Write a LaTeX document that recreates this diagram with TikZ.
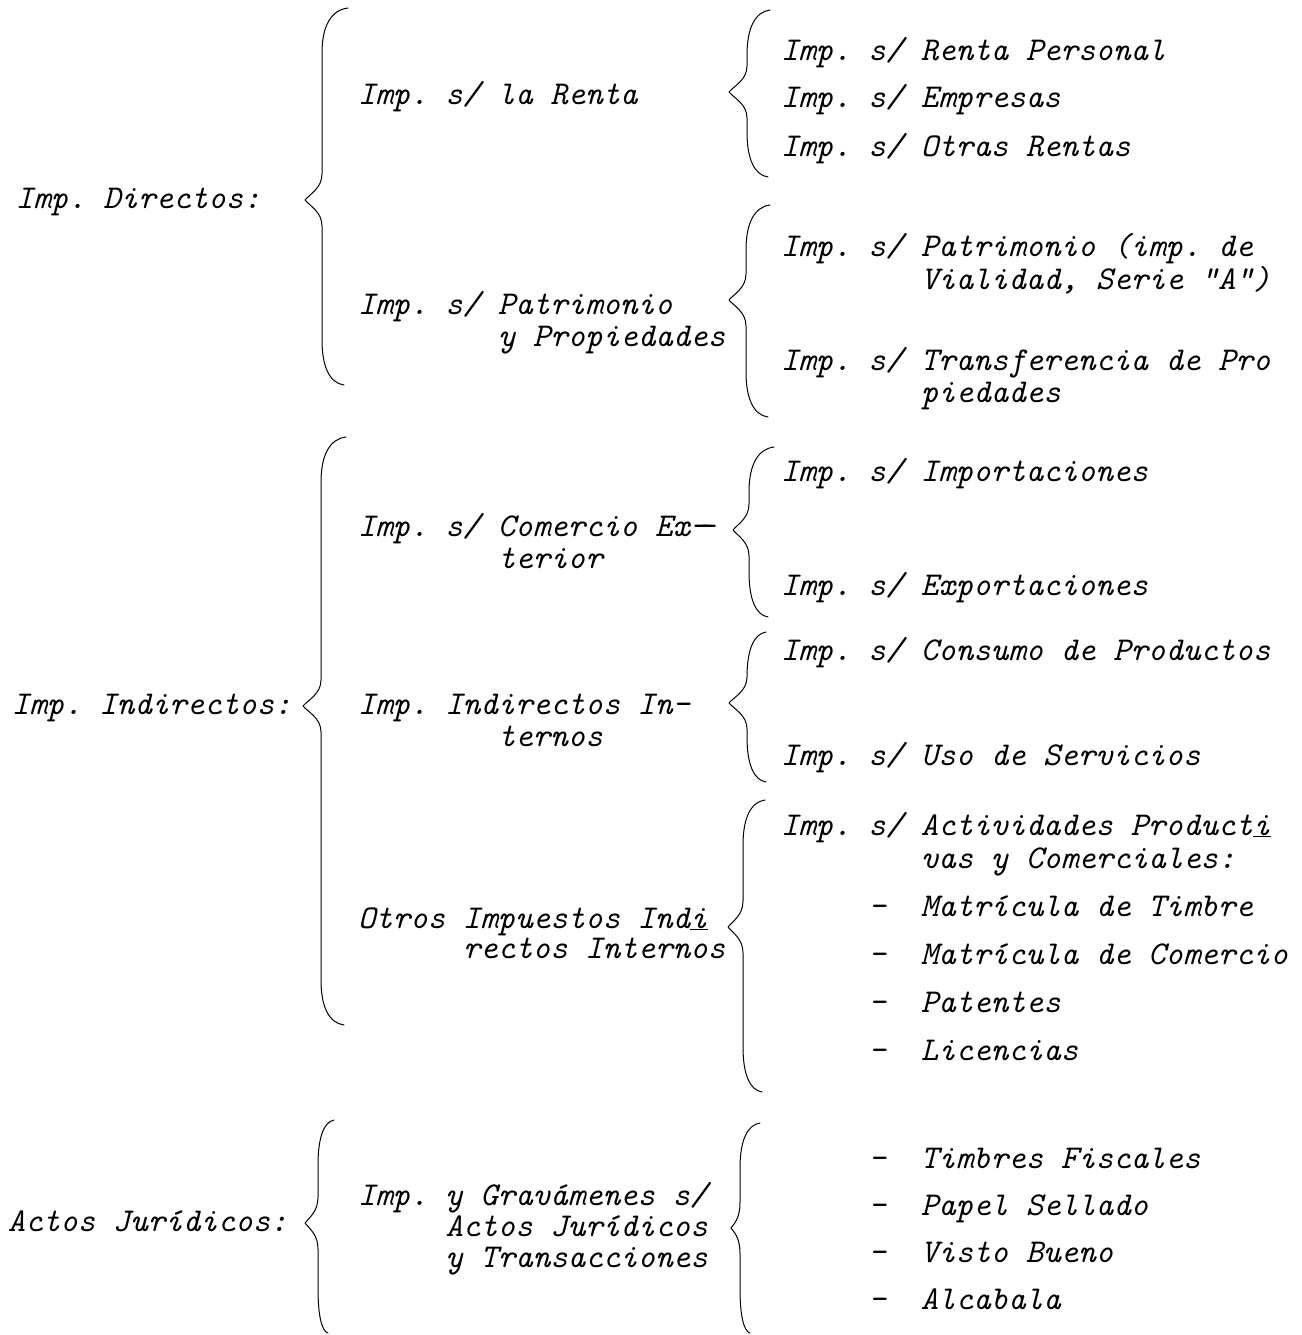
\documentclass[tikz,border=0pt]{standalone}
\newcommand\mybrace[7]{%
  \draw[bracestyle] (#1,#2) .. controls ({#3+0.35*(#1-#3)},{#2+2}) and (#3,{#2+18}) .. (#3,{#2+45})
    -- (#3,{#5-26}) .. controls (#3,{#5-12}) and ({#4+5},{#5-6}) .. (#4,#5)
    .. controls ({#4+5},{#5+6}) and (#3,{#5+12}) .. (#3,{#5+26})
    -- (#3,{#7-45}) .. controls (#3,{#7-18}) and ({#3+0.35*(#6-#3)},{#7-2}) .. (#6,#7);}
\begin{document}
\frenchspacing
\begin{tikzpicture}[x=1pt,y=-1pt,
  lbl/.style={anchor=base west, inner sep=0pt, outer sep=0pt,
    font=\fontsize{33.3}{33.3}\selectfont\ttfamily\itshape\frenchspacing},
  bracestyle/.style={line width=1pt, line cap=round, line join=round}]
\useasboundingbox (0,0) rectangle (1301,1335);
% level 1
\node[lbl] (dir) at (16,208) {Imp. Directos:};
\node[lbl] (ind) at (12,714) {Imp. Indirectos:};
\node[lbl] (act) at (8,1231) {Actos Jurídicos:};
% level 2
\node[lbl] (renta) at (358,105) {Imp. s/ la Renta};
\node[lbl] (patA) at (358,314) {Imp. s/ Patrimonio};
\node[lbl] (patB) at (498,346) {y Propiedades};
\node[lbl] (comA) at (358,536) {Imp. s/ Comercio Ex-\kern-0.3em-};
\node[lbl] (comB) at (498,568) {terior};
\node[lbl] (iinA) at (358,714) {Imp. Indirectos In–};
\node[lbl] (iinB) at (498,746) {ternos};
\node[lbl] (otrA) at (358,928) {Otros Impuestos Ind\underline{i}};
\node[lbl] (otrB) at (463,958) {rectos Internos};
\node[lbl] (ayA) at (358,1205) {Imp. y Gravámenes s/};
\node[lbl] (ayB) at (445.5,1236) {Actos Jurídicos};
\node[lbl] (ayC) at (445.5,1267) {y Transacciones};
% level 3
\node[lbl] (rp) at (781,61) {Imp. s/ Renta Personal};
\node[lbl] (emp) at (781,108) {Imp. s/ Empresas};
\node[lbl] (otras) at (781,156) {Imp. s/ Otras Rentas};
\node[lbl] (ppA) at (781,256) {Imp. s/ Patrimonio (imp. de};
\node[lbl] (ppB) at (921,289) {Vialidad, Serie "A")};
\node[lbl] (trA) at (781,370) {Imp. s/ Transferencia de Pro};
\node[lbl] (trB) at (921,402) {piedades};
\node[lbl] (imp) at (781,481) {Imp. s/ Importaciones};
\node[lbl] (exp) at (781,595) {Imp. s/ Exportaciones};
\node[lbl] (cons) at (781,660) {Imp. s/ Consumo de Productos};
\node[lbl] (uso) at (781,765) {Imp. s/ Uso de Servicios};
\node[lbl] (acA) at (781,835) {Imp. s/ Actividades Product\underline{i}};
\node[lbl] (acB) at (921,868) {vas y Comerciales:};
\node[lbl] (mt) at (868.5,916) {–\hspace*{1.05em}Matrícula de Timbre};
\node[lbl] (mc) at (868.5,964) {–\hspace*{1.05em}Matrícula de Comercio};
\node[lbl] (pa) at (868.5,1012) {–\hspace*{1.05em}Patentes};
\node[lbl] (li) at (868.5,1060) {–\hspace*{1.05em}Licencias};
\node[lbl] (tf) at (868.5,1168) {–\hspace*{1.05em}Timbres Fiscales};
\node[lbl] (ps) at (868.5,1215) {–\hspace*{1.05em}Papel Sellado};
\node[lbl] (vb) at (868.5,1262) {–\hspace*{1.05em}Visto Bueno};
\node[lbl] (al) at (868.5,1309) {–\hspace*{1.05em}Alcabala};
% braces
\mybrace{348}{8}{322}{305}{200}{344}{385}
\mybrace{346}{437}{321}{303}{706}{344}{1025}
\mybrace{334}{1120}{318}{305}{1223}{328}{1333}
\mybrace{770}{10}{747}{729}{92}{768}{177}
\mybrace{770}{205}{746}{729}{300}{768}{417}
\mybrace{774}{447}{749}{733}{530}{768}{617}
\mybrace{766}{632}{747}{729}{703}{766}{782}
\mybrace{765}{800}{743}{728}{927}{762}{1092}
\mybrace{760}{1123}{740}{731}{1228}{750}{1333}
\end{tikzpicture}
\end{document}
